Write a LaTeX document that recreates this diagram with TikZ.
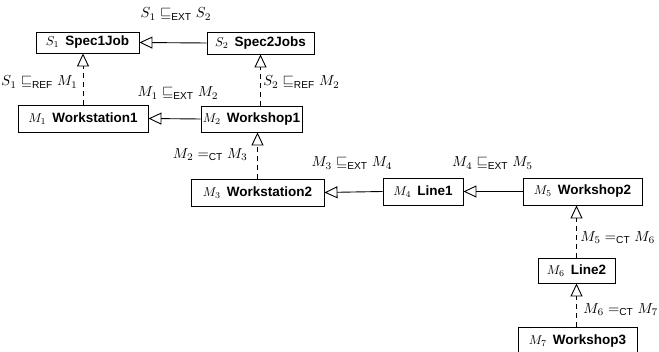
\documentclass[tikz,border=0pt]{standalone}
\usepackage{amsmath}
\usepackage{fontspec}
\setsansfont{Liberation Sans}
\usetikzlibrary{arrows.meta}
\newcommand{\ext}{\sqsubseteq_{\textsf{EXT}}}
\newcommand{\refi}{\sqsubseteq_{\textsf{REF}}}
\newcommand{\ct}{=_{\textsf{CT}}}
\newcommand{\bx}[2]{\scalebox{1.28}{\normalsize$#1$}\hspace{6pt}\textbf{\sffamily #2}}
\begin{document}
\begin{tikzpicture}[x=1pt,y=-1pt,
  box/.style={draw,line width=0.9pt,rectangle,inner sep=0pt,
    font=\fontsize{13.5}{15}\selectfont},
  lbl/.style={inner sep=0pt,font=\normalsize,scale=1.45},
  gen/.style={line width=0.9pt,-{Triangle[open,length=13pt,width=12pt,line width=0.9pt]}},
  gendash/.style={gen,dash pattern=on 5pt off 4pt}]
\useasboundingbox (0,0) rectangle (659,352);
\node[box,minimum width=103pt,minimum height=21pt] (s1) at (87.5,42.5) {\bx{S_1}{Spec1Job}};
\node[box,minimum width=107pt,minimum height=22pt] (s2) at (260.5,43) {\bx{S_2}{Spec2Jobs}};
\node[box,minimum width=130pt,minimum height=27pt] (m1) at (83,118.5) {\bx{M_1}{Workstation1}};
\node[box,minimum width=101pt,minimum height=26pt] (m2) at (251.5,119) {\bx{M_2}{Workshop1}};
\node[box,minimum width=133pt,minimum height=27pt] (m3) at (257.5,192.5) {\bx{M_3}{Workstation2}};
\node[box,minimum width=80pt,minimum height=27pt] (m4) at (423,191.5) {\bx{M_4}{Line1}};
\node[box,minimum width=119pt,minimum height=27pt] (m5) at (582.5,191.5) {\bx{M_5}{Workshop2}};
\node[box,minimum width=77pt,minimum height=25pt] (m6) at (576.5,270.5) {\bx{M_6}{Line2}};
\node[box,minimum width=119pt,minimum height=28pt] (m7) at (577.5,341) {\bx{M_7}{Workshop3}};

\draw[gen] (s2.west) -- (s1.east);
\draw[gen] (m2.west) -- (m1.east);
\draw[gen] (m4.west) -- (m3.east);
\draw[gen] (m5.west) -- (m4.west -| m4.east);
\draw[gendash] (m1.north) -- (m1.north |- s1.south);
\draw[gendash] (s2.south |- m2.north) -- (s2.south);
\draw[gendash] (m3.north) -- (m3.north |- m2.south);
\draw[gendash] (m6.north) -- (m6.north |- m5.south);
\draw[gendash] (m6.south |- m7.north) -- (m6.south);

\node[lbl] (l1) at (176,14) {$S_1 \ext S_2$};
\node[lbl,anchor=east] (l2) at (78,82) {$S_1 \refi M_1$};
\node[lbl] (l3) at (178,93) {$M_1 \ext M_2$};
\node[lbl,anchor=west] (l4) at (263,82) {$S_2 \refi M_2$};
\node[lbl,anchor=east] (l5) at (248,155) {$M_2 \ct M_3$};
\node[lbl] (l6) at (352,163) {$M_3 \ext M_4$};
\node[lbl] (l7) at (492.5,163) {$M_4 \ext M_5$};
\node[lbl,anchor=west] (l8) at (580,238) {$M_5 \ct M_6$};
\node[lbl,anchor=east] (l9) at (658.5,310) {$M_6 \ct M_7$};
\end{tikzpicture}
\end{document}
